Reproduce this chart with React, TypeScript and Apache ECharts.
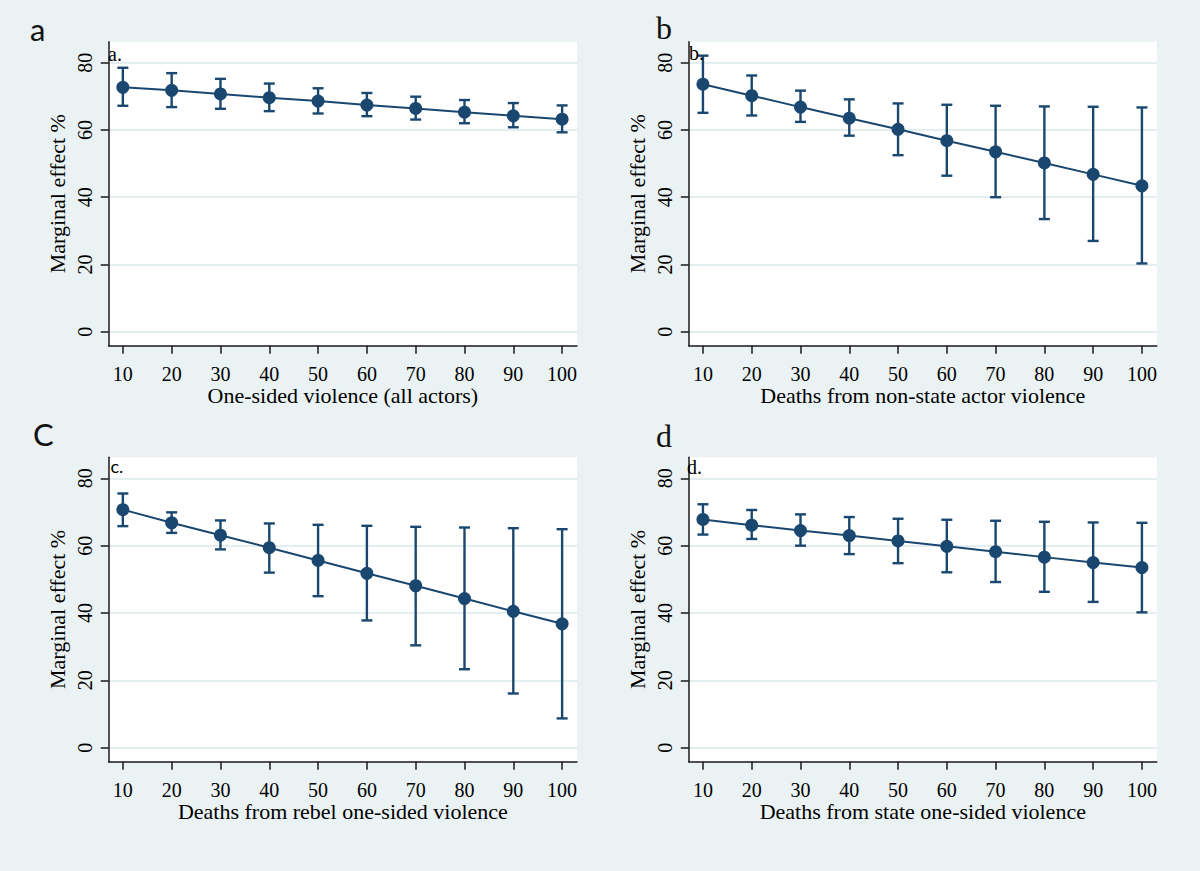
import React, { useEffect, useRef } from "react";
import * as echarts from "echarts";

const xValues = [10, 20, 30, 40, 50, 60, 70, 80, 90, 100];
const xTickValues = [10, 20, 30, 40, 50, 60, 70, 80, 90, 100];
const yTickValues = [0, 20, 40, 60, 80];

const estA = [72.7, 71.8, 70.7, 69.6, 68.6, 67.4, 66.4, 65.3, 64.2, 63.2];
const hiA = [78.5, 76.9, 75.2, 73.8, 72.4, 71.0, 69.9, 68.9, 68.0, 67.3];
const loA = [67.2, 66.8, 66.3, 65.6, 64.9, 64.1, 63.1, 62.0, 60.8, 59.3];

const estB = [73.6, 70.2, 66.8, 63.5, 60.2, 56.8, 53.5, 50.2, 46.8, 43.4];
const hiB = [82.1, 76.2, 71.7, 69.1, 67.9, 67.5, 67.2, 67.0, 66.9, 66.7];
const loB = [65.1, 64.3, 62.4, 58.3, 52.5, 46.4, 40.0, 33.5, 27.0, 20.3];

const estC = [70.7, 66.8, 63.1, 59.4, 55.6, 51.8, 48.1, 44.3, 40.5, 36.8];
const hiC = [75.5, 69.9, 67.5, 66.6, 66.2, 65.9, 65.6, 65.4, 65.2, 64.9];
const loC = [65.8, 63.8, 58.9, 52.0, 45.0, 37.8, 30.4, 23.3, 16.1, 8.7];

const estD = [67.8, 66.1, 64.5, 63.0, 61.4, 59.8, 58.2, 56.6, 55.0, 53.5];
const hiD = [72.3, 70.6, 69.3, 68.5, 68.0, 67.7, 67.4, 67.1, 66.9, 66.8];
const loD = [63.3, 62.0, 60.0, 57.5, 54.8, 52.1, 49.2, 46.3, 43.3, 40.2];

const xTitles = [
  "One-sided violence (all actors)",
  "Deaths from non-state actor violence",
  "Deaths from rebel one-sided violence",
  "Deaths from state one-sided violence",
];
const yTitle = "Marginal effect %";
const panelLetters = ["a", "b", "C", "d"];
const innerLabels = ["a.", "b.", "c.", "d."];

const NAVY = "#1A476F";
const BG = "#EAF2F3";
const SERIF = "Liberation Serif";
const SANS = "Lato";

const grids = [
  { left: 108.7, top: 41.7, width: 468.3, height: 304 },
  { left: 688.8, top: 41.7, width: 468, height: 304 },
  { left: 108.7, top: 457.3, width: 468.3, height: 304.4 },
  { left: 688.8, top: 457.3, width: 468, height: 304.4 },
];

const panels = [
  { est: estA, lo: loA, hi: hiA },
  { est: estB, lo: loB, hi: hiB },
  { est: estC, lo: loC, hi: hiC },
  { est: estD, lo: loD, hi: hiD },
];

export default function App() {
  const ref = useRef<HTMLDivElement>(null);
  useEffect(() => {
    if (!ref.current) return;
    const chart = echarts.init(ref.current, null, { renderer: "svg" });
    const axisLineStyle = { color: "#1a1a1a", width: 1.5 };
    const xAxis = grids.map((_, i) => ({
      type: "value",
      gridIndex: i,
      min: 7.1,
      max: 103.05,
      axisLine: { show: true, onZero: false, lineStyle: axisLineStyle },
      axisTick: { show: true, length: 8, customValues: xTickValues, lineStyle: axisLineStyle },
      axisLabel: {
        customValues: xTickValues,
        fontSize: 20,
        fontFamily: SERIF,
        color: "#000",
        margin: 18,
      },
      splitLine: { show: false },
      name: xTitles[i],
      nameLocation: "middle",
      nameGap: 38,
      nameTextStyle: { fontSize: 22, fontFamily: SERIF, color: "#000" },
    }));
    const yAxis = grids.map((_, i) => ({
      type: "value",
      gridIndex: i,
      min: -4.16,
      max: 86.25,
      axisLine: { show: true, onZero: false, lineStyle: axisLineStyle },
      axisTick: { show: true, length: 8, customValues: yTickValues, lineStyle: axisLineStyle },
      axisLabel: {
        customValues: yTickValues,
        rotate: 90,
        fontSize: 20,
        fontFamily: SERIF,
        color: "#000",
        margin: 14,
      },
      splitLine: { show: true, lineStyle: { color: "#E4EEF0", width: 2 } },
      name: yTitle,
      nameLocation: "middle",
      nameGap: 40,
      nameTextStyle: { fontSize: 22, fontFamily: SERIF, color: "#000" },
    }));
    const series: any[] = [];
    panels.forEach((p, i) => {
      series.push({
        type: "custom",
        xAxisIndex: i,
        yAxisIndex: i,
        z: 2,
        data: xValues.map((x, j) => [x, p.lo[j], p.hi[j]]),
        encode: { x: 0, y: [1, 2] },
        renderItem: (params: any, api: any) => {
          const x = api.value(0);
          const pLo = api.coord([x, api.value(1)]);
          const pHi = api.coord([x, api.value(2)]);
          const w = 5.5;
          const style = { stroke: NAVY, lineWidth: 2.4 };
          return {
            type: "group",
            children: [
              { type: "line", shape: { x1: pHi[0], y1: pHi[1], x2: pLo[0], y2: pLo[1] }, style },
              { type: "line", shape: { x1: pHi[0] - w, y1: pHi[1], x2: pHi[0] + w, y2: pHi[1] }, style },
              { type: "line", shape: { x1: pLo[0] - w, y1: pLo[1], x2: pLo[0] + w, y2: pLo[1] }, style },
            ],
          };
        },
      });
      series.push({
        type: "line",
        xAxisIndex: i,
        yAxisIndex: i,
        z: 3,
        data: xValues.map((x, j) => [x, p.est[j]]),
        symbol: "circle",
        symbolSize: 13,
        showSymbol: true,
        lineStyle: { color: NAVY, width: 2 },
        itemStyle: { color: NAVY },
      });
    });
    const letterPos = [
      { x: 30, y: 28.7, font: SANS, size: 31 },
      { x: 656, y: 28.2, font: SERIF, size: 32 },
      { x: 33, y: 434, font: SANS, size: 31 },
      { x: 656, y: 436.2, font: SERIF, size: 32 },
    ];
    const innerPos = [
      { x: 108, y: 54.3, font: SERIF, size: 20 },
      { x: 689, y: 53.3, font: SERIF, size: 20 },
      { x: 110.5, y: 466, font: SANS, size: 18 },
      { x: 687, y: 467, font: SERIF, size: 20 },
    ];
    const graphic: any[] = [];
    panelLetters.forEach((t, i) => {
      const p = letterPos[i];
      graphic.push({
        type: "text",
        x: p.x,
        y: p.y,
        style: { text: t, fill: "#111", font: `${p.size}px "${p.font}"`, textAlign: "left", textVerticalAlign: "middle", verticalAlign: "middle" },
      });
    });
    innerLabels.forEach((t, i) => {
      const p = innerPos[i];
      graphic.push({
        type: "text",
        x: p.x,
        y: p.y,
        z: 10,
        style: { text: t, fill: "#000", font: `${p.size}px "${p.font}"`, textAlign: "left", textVerticalAlign: "middle", verticalAlign: "middle" },
      });
    });
    chart.setOption({
      animation: false,
      backgroundColor: BG,
      grid: grids.map((g) => ({ ...g, show: true, backgroundColor: "#fff", borderWidth: 0, containLabel: false })),
      xAxis,
      yAxis,
      series,
      graphic,
    });
    return () => chart.dispose();
  }, []);
  return (
    <div
      ref={ref}
      style={{ position: "fixed", left: 0, top: 0, width: 1200, height: 871, background: BG }}
    />
  );
}
